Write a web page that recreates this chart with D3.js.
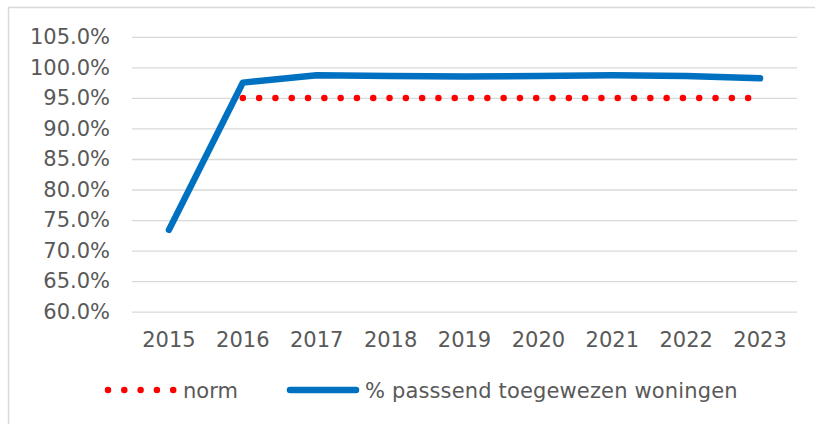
<!DOCTYPE html>
<html><head><meta charset="utf-8">
<script src="https://cdn.jsdelivr.net/npm/d3@7"></script>
<style>body{margin:0;background:#fff;} text{font-family:"DejaVu Sans",Verdana,sans-serif;fill:#595959;}</style>
</head><body>
<script>
const years = ["2015","2016","2017","2018","2019","2020","2021","2022","2023"];
const passend = [73.4, 97.5, 98.7, 98.6, 98.5, 98.6, 98.7, 98.6, 98.2];
const norm = [null, 95, 95, 95, 95, 95, 95, 95, 95];
const yTicks = [60,65,70,75,80,85,90,95,100,105];
const seriesNames = ["norm", "% passsend toegewezen woningen"];

const W = 815, H = 424;
const FS = "21px";
const svg = d3.select("body").append("svg").attr("width", W).attr("height", H);
svg.append("rect").attr("x",8.5).attr("y",7.5).attr("width",820).attr("height",430)
  .attr("fill","#fff").attr("stroke","#d9d9d9").attr("stroke-width",1.5);

const x = d3.scaleBand().domain(years).range([132, 797]);
const y = d3.scaleLinear().domain([60,105]).range([311.7, 36.8]);
const cx = d => x(d) + x.bandwidth()/2;

const yAxis = svg.append("g").attr("transform","translate(132,0)")
  .call(d3.axisLeft(y).tickValues(yTicks).tickSize(-665).tickPadding(22).tickFormat(d => d3.format(".1f")(d) + "%"));
yAxis.select(".domain").remove();
yAxis.selectAll(".tick line").attr("stroke","#d9d9d9").attr("stroke-width",1.3);
yAxis.selectAll("text").style("font-size",FS).attr("fill","#595959");

const xAxis = svg.append("g").attr("transform","translate(0,311.7)")
  .call(d3.axisBottom(x).tickSize(0).tickPadding(20));
xAxis.select(".domain").remove();
xAxis.selectAll("text").style("font-size",FS).attr("fill","#595959");

const line = d3.line().defined(d => d[1] != null).x(d => cx(d[0])).y(d => y(d[1]));

svg.append("path").datum(years.map((yr,i)=>[yr,norm[i]]))
  .attr("d", line).attr("fill","none").attr("stroke","#ff0000").attr("stroke-width",6.5)
  .attr("stroke-linecap","round").attr("stroke-dasharray","0 16.3");

svg.append("path").datum(years.map((yr,i)=>[yr,passend[i]]))
  .attr("d", line).attr("fill","none").attr("stroke","#0070c0").attr("stroke-width",6.5)
  .attr("stroke-linecap","round").attr("stroke-linejoin","round");

// legend
const lg = svg.append("g");
lg.append("line").attr("x1",108).attr("x2",174).attr("y1",390).attr("y2",390)
  .attr("stroke","#ff0000").attr("stroke-width",6.5).attr("stroke-linecap","round").attr("stroke-dasharray","0 16.3");
lg.append("text").attr("x",183).attr("y",397.5).style("font-size",FS).text(seriesNames[0]);
lg.append("line").attr("x1",290).attr("x2",356).attr("y1",390).attr("y2",390)
  .attr("stroke","#0070c0").attr("stroke-width",6.5).attr("stroke-linecap","round");
lg.append("text").attr("x",365).attr("y",397.5).style("font-size",FS).style("letter-spacing","0.15px").text(seriesNames[1]);
</script>
</body></html>
